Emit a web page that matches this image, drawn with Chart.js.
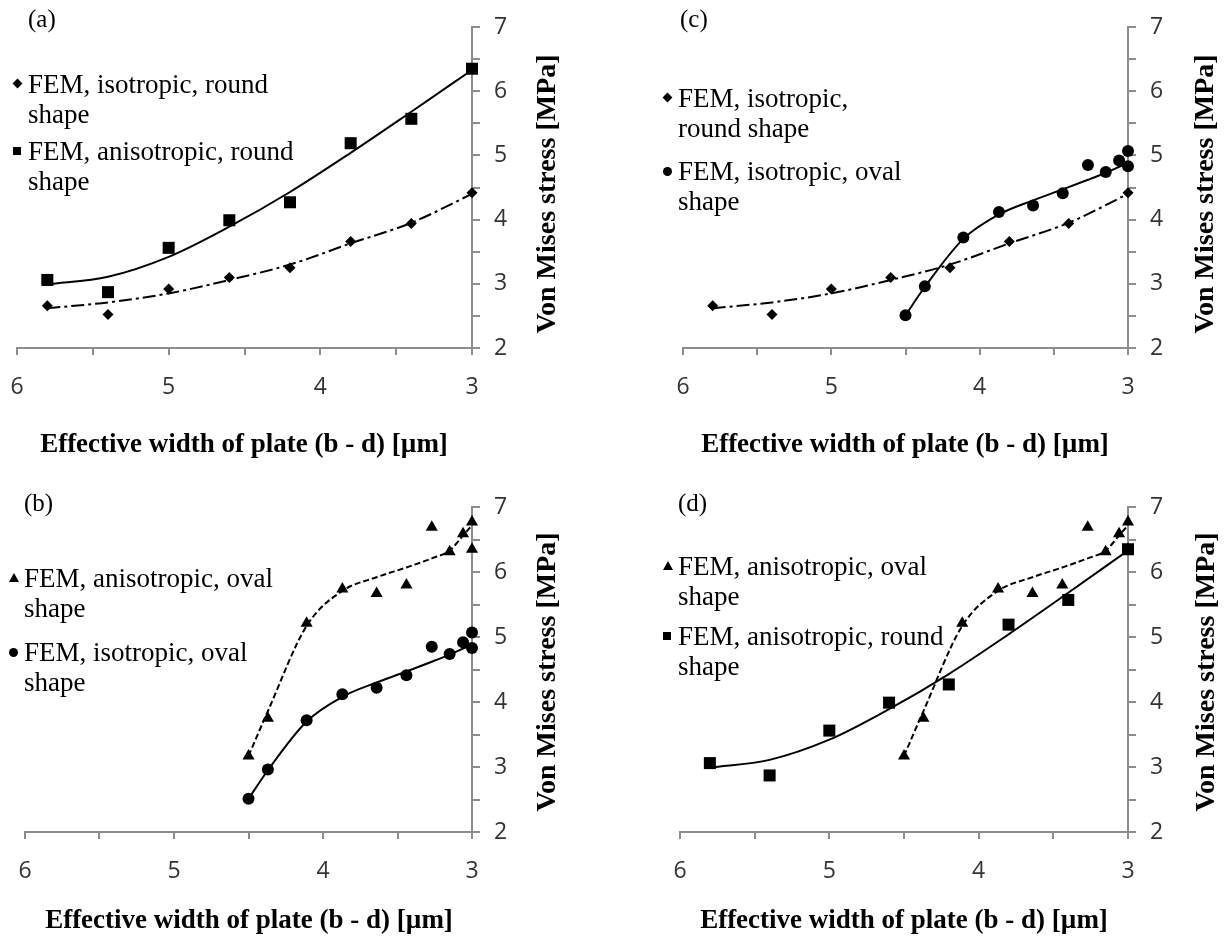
<!DOCTYPE html>
<html>
<head>
<meta charset="utf-8">
<script src="https://cdn.jsdelivr.net/npm/chart.js@4.4.0/dist/chart.umd.min.js"></script>
<style>
  body { margin: 0; background: #fff; }
  #page { position: relative; width: 1225px; height: 945px; overflow: hidden;
          font-family: "Liberation Serif", "Times New Roman", serif; color: #000; }
  canvas { position: absolute; }
  .lab { position: absolute; font-size: 25px; line-height: 30px; }
  .leg { position: absolute; font-size: 27px; line-height: 30px; white-space: nowrap; }
  .leg i { position: absolute; left: -15px; top: 11px; width: 8px; height: 8px; background: #000; }
  .leg i.dia { transform: rotate(45deg); width: 7px; height: 7px; left: -14px; }
  .leg i.cir { border-radius: 50%; width: 9px; height: 9px; }
  .leg i.tri { background: none; width: 0; height: 0; top: 10px;
               border-left: 5px solid transparent; border-right: 5px solid transparent; border-bottom: 9px solid #000; }
  .xt, .yt { position: absolute; font-weight: bold; font-size: 27px; line-height: 30px; white-space: nowrap; }
  .xt { transform: translate(-50%, -50%); }
  .yt { font-size: 28px; transform: translate(-50%, -50%) rotate(-90deg); }
</style>
</head>
<body>
<div id="page">
  <canvas id="ca" width="612" height="470" style="left:0;top:0"></canvas>
  <canvas id="cc" width="613" height="470" style="left:612px;top:0"></canvas>
  <canvas id="cb" width="612" height="475" style="left:0;top:470px"></canvas>
  <canvas id="cd" width="613" height="475" style="left:612px;top:470px"></canvas>

  <div class="lab" style="left:28px;top:4px">(a)</div>
  <div class="lab" style="left:680px;top:4px">(c)</div>
  <div class="lab" style="left:24px;top:488px">(b)</div>
  <div class="lab" style="left:678px;top:488px">(d)</div>

  <div class="leg" style="left:28px;top:69px"><i class="dia"></i>FEM, isotropic, round<br>shape</div>
  <div class="leg" style="left:28px;top:136px"><i></i>FEM, anisotropic, round<br>shape</div>

  <div class="leg" style="left:678px;top:83px"><i class="dia"></i>FEM, isotropic,<br>round shape</div>
  <div class="leg" style="left:678px;top:156px"><i class="cir"></i>FEM, isotropic, oval<br>shape</div>

  <div class="leg" style="left:24px;top:563px"><i class="tri"></i>FEM, anisotropic, oval<br>shape</div>
  <div class="leg" style="left:24px;top:637px"><i class="cir"></i>FEM, isotropic, oval<br>shape</div>

  <div class="leg" style="left:678px;top:551px"><i class="tri"></i>FEM, anisotropic, oval<br>shape</div>
  <div class="leg" style="left:678px;top:621px"><i></i>FEM, anisotropic, round<br>shape</div>

  <div class="xt" style="left:244px;top:443px">Effective width of plate (b - d) [µm]</div>
  <div class="xt" style="left:905px;top:443px">Effective width of plate (b - d) [µm]</div>
  <div class="xt" style="left:249px;top:919px">Effective width of plate (b - d) [µm]</div>
  <div class="xt" style="left:904px;top:919px">Effective width of plate (b - d) [µm]</div>

  <div class="yt" style="left:546px;top:194px">Von Mises stress [MPa]</div>
  <div class="yt" style="left:1204px;top:194px">Von Mises stress [MPa]</div>
  <div class="yt" style="left:546px;top:672px">Von Mises stress [MPa]</div>
  <div class="yt" style="left:1205px;top:672px">Von Mises stress [MPa]</div>
</div>

<script>
// round shape runs
const xRound = [5.8, 5.4, 5.0, 4.6, 4.2, 3.8, 3.4, 3.0];
const isoRound = [2.66, 2.52, 2.92, 3.10, 3.25, 3.66, 3.94, 4.42];
const anisoRound = [3.06, 2.87, 3.56, 3.99, 4.27, 5.19, 5.57, 6.35];
// trend lines
const fitIsoRound = [2.62, 2.71, 2.85, 3.06, 3.30, 3.63, 3.95, 4.40];
const fitAnisoRound = [2.99, 3.11, 3.42, 3.89, 4.43, 5.04, 5.68, 6.33];

// oval shape runs
const xOval = [4.5, 4.37, 4.11, 3.87, 3.64, 3.44, 3.27, 3.15, 3.06, 3.0, 3.0];
const isoOval = [2.51, 2.96, 3.72, 4.12, 4.22, 4.41, 4.85, 4.74, 4.92, 5.07, 4.83];
const anisoOval = [3.17, 3.75, 5.21, 5.74, 5.67, 5.80, 6.69, 6.31, 6.59, 6.77, 6.35];
const xOvalFit = [4.5, 4.37, 4.11, 3.87, 3.64, 3.44, 3.27, 3.15, 3.06, 3.0];
const fitIsoOval = [2.51, 2.95, 3.70, 4.08, 4.30, 4.47, 4.62, 4.73, 4.82, 4.88];
const fitAnisoOval = [3.17, 3.86, 5.17, 5.71, 5.92, 6.07, 6.21, 6.33, 6.56, 6.72];

const xTicks = [6, 5, 4, 3];
const yTicks = [2, 3, 4, 5, 6, 7];

const AXIS = '#8c8c8c';
const DASHDOT = [13, 4, 3, 4];
const DASHED = [6, 3];

function pts(xs, ys) {
  return xs.map((x, i) => ({ x: x, y: ys[i] }));
}

function markers(xs, ys, style, r) {
  return {
    data: pts(xs, ys), showLine: false, clip: false,
    pointStyle: style, pointRadius: r, pointHoverRadius: r,
    pointBackgroundColor: '#000', pointBorderColor: '#000', pointBorderWidth: 0
  };
}

function trend(xs, ys, dash) {
  return {
    data: pts(xs, ys), showLine: true, clip: false, pointRadius: 0, pointHoverRadius: 0,
    borderColor: '#000', borderWidth: 2, borderDash: dash,
    cubicInterpolationMode: 'monotone', fill: false
  };
}

// box: canvas size (w, h) and plot area edges inside it (l, t, r, b)
function panel(id, box, datasets) {
  new Chart(document.getElementById(id), {
    type: 'scatter',
    data: { datasets: datasets },
    options: {
      responsive: false,
      animation: false,
      events: [],
      layout: { padding: { left: box.l, top: box.t, right: 0, bottom: 0 } },
      plugins: { legend: { display: false }, tooltip: { enabled: false } },
      scales: {
        x: {
          type: 'linear', position: 'bottom', reverse: true, min: 3, max: 6,
          grid: { drawOnChartArea: false, tickLength: 7, color: AXIS, lineWidth: 2 },
          border: { color: AXIS, width: 2 },
          ticks: {
            stepSize: 0.5, autoSkip: false, maxRotation: 0, padding: 19,
            color: '#333', font: { family: 'Open Sans', size: 23 },
            callback: v => xTicks.includes(v) ? String(v) : ''
          },
          afterFit: s => {
            s.height = box.h - box.b;
            s.paddingLeft = 0;
            s.paddingRight = 0;
          }
        },
        y: {
          type: 'linear', position: 'right', min: 2, max: 7,
          grid: { drawOnChartArea: false, tickLength: 8, color: AXIS, lineWidth: 2 },
          border: { color: AXIS, width: 2 },
          ticks: {
            stepSize: 0.5, autoSkip: false, padding: 14,
            color: '#333', font: { family: 'Open Sans', size: 23 },
            callback: v => yTicks.includes(v) ? String(v) : ''
          },
          afterFit: s => {
            s.width = box.w - box.r;
            s.paddingTop = 0;
            s.paddingBottom = 0;
          }
        }
      }
    }
  });
}

panel('ca', { w: 612, h: 470, l: 17, t: 27, r: 472, b: 348 }, [
  markers(xRound, isoRound, 'rectRot', 5.5),
  markers(xRound, anisoRound, 'rect', 8.5),
  trend(xRound, fitIsoRound, DASHDOT),
  trend(xRound, fitAnisoRound, [])
]);

panel('cc', { w: 613, h: 470, l: 71, t: 27, r: 516, b: 348 }, [
  markers(xRound, isoRound, 'rectRot', 5.5),
  markers(xOval, isoOval, 'circle', 6),
  trend(xRound, fitIsoRound, DASHDOT),
  trend(xOvalFit, fitIsoOval, [])
]);

panel('cb', { w: 612, h: 475, l: 25, t: 37, r: 472, b: 362 }, [
  markers(xOval, anisoOval, 'triangle', 7),
  markers(xOval, isoOval, 'circle', 6),
  trend(xOvalFit, fitAnisoOval, DASHED),
  trend(xOvalFit, fitIsoOval, [])
]);

panel('cd', { w: 613, h: 475, l: 68, t: 37, r: 516, b: 362 }, [
  markers(xOval, anisoOval, 'triangle', 7),
  markers(xRound, anisoRound, 'rect', 8.5),
  trend(xOvalFit, fitAnisoOval, DASHED),
  trend(xRound, fitAnisoRound, [])
]);
</script>
</body>
</html>
